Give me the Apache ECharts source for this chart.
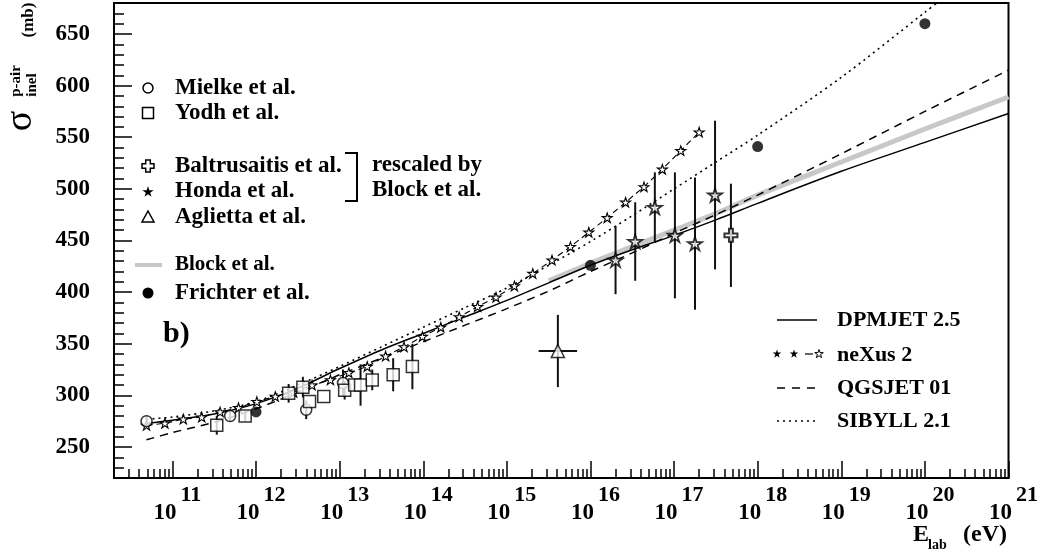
<!DOCTYPE html>
<html>
<head>
<meta charset="utf-8">
<script src="https://cdn.jsdelivr.net/npm/echarts@6/dist/echarts.min.js"></script>
<style>
  html, body { margin: 0; padding: 0; background: #fff; }
  #chart { width: 1041px; height: 554px; }
</style>
</head>
<body>
<div id="chart"></div>
<script>
// ---- axis ticks -------------------------------------------------------
const xMajorExp = [11, 12, 13, 14, 15, 16, 17, 18, 19, 20, 21];
const yMajor = [250, 300, 350, 400, 450, 500, 550, 600, 650];
const yMinor = [220, 230, 240, 250, 260, 270, 280, 290, 300, 310, 320, 330, 340, 350, 360, 370, 380, 390,
                400, 410, 420, 430, 440, 450, 460, 470, 480, 490, 500, 510, 520, 530, 540, 550, 560, 570,
                580, 590, 600, 610, 620, 630, 640, 650, 660, 670, 680];

// ---- model curves: energies as log10(E/eV), cross sections in mb -------
const modelLogE   = [10.69, 11, 11.5, 12, 12.5, 13, 13.5, 14, 14.5, 15, 15.5, 16, 16.5, 17, 17.5, 18, 19, 20, 21];
const dpmjetSigma = [273, 276, 282, 292, 307, 326, 344, 360, 376, 392, 409, 426, 441, 455, 470, 486, 517, 545, 573];
const qgsjetSigma = [257, 264, 274, 287, 303, 320, 336, 352, 368, 384, 401, 420, 438, 457, 475, 494, 534, 575, 615];
const sibyllLogE  = [10.69, 11, 11.5, 12, 12.5, 13, 13.5, 14, 14.5, 15, 15.5, 16, 16.5, 17, 17.5, 18, 19, 20, 20.3];
const sibyllSigma = [277, 279, 285, 294, 310, 328, 347, 366, 385, 404, 426, 449, 474, 500, 526, 552, 608, 671, 690];
const blockLogE   = [15.5, 16, 16.5, 17, 17.5, 18, 19, 20, 21];
const blockSigma  = [411, 428, 444, 460, 476, 494, 526, 558, 589];
const nexusLogE   = [10.69, 10.91, 11.13, 11.35, 11.57, 11.79, 12.01, 12.23, 12.45, 12.67, 12.89, 13.11, 13.33,
                     13.55, 13.77, 13.99, 14.21, 14.43, 14.65, 14.87, 15.09, 15.31, 15.54, 15.76, 15.98, 16.20,
                     16.42, 16.64, 16.86, 17.08, 17.30];
const nexusSigma  = [271, 273, 277, 279, 284, 288, 294, 299, 303, 310, 315, 322, 328, 338, 347, 357, 366, 376,
                     386, 395, 406, 418, 431, 444, 458, 472, 487, 502, 519, 537, 555];

// ---- measurements -----------------------------------------------------
const mielkeLogE = [10.69, 11.69, 12.60, 13.04];
const mielkeSigma = [275, 280, 286, 312];
const mielkeErr = [5, 5, 9, 13];

const yodhLogE = [11.53, 11.87, 12.39, 12.56, 12.64, 12.81, 13.06, 13.18, 13.25, 13.39, 13.64, 13.87];
const yodhSigma = [271, 280, 302, 308, 294, 299, 305, 310, 310, 315, 320, 328];
const yodhErr = [9, 5, 9, 10, 0, 0, 9, 0, 20, 10, 16, 22];

const baltrusaitisLogE = [17.68];
const baltrusaitisSigma = [455];
const baltrusaitisErr = [50];

const hondaLogE = [16.30, 16.535, 16.77, 17.01, 17.25, 17.49];
const hondaSigma = [431, 449, 482, 455, 447, 494];
const hondaErr = [33, 38, 34, 61, 64, 72];

const agliettaLogE = [15.61];
const agliettaSigma = [343];
const agliettaErr = [35];
const agliettaLogEErr = [0.23];

const frichterLogE = [12, 16, 18, 20];
const frichterSigma = [284, 426, 541, 660];

// ---- helpers ----------------------------------------------------------
const SERIF = '"Liberation Serif", "DejaVu Serif", serif';
const toE = lg => Math.pow(10, lg);
const pairs = (lgs, ys) => lgs.map((lg, i) => [toE(lg), ys[i]]);
const errRows = (lgs, ys, errs, xerrs) => lgs.map((lg, i) => {
  const e = errs[i] || 0;
  const xe = xerrs ? xerrs[i] : 0;
  return [toE(lg), ys[i], ys[i] - e, ys[i] + e, xe ? toE(lg - xe) : 0, xe ? toE(lg + xe) : 0];
});

const STAR = 'path://M0,-10L2.245,-3.09L9.51,-3.09L3.633,1.18L5.88,8.09L0,3.82L-5.88,8.09L-3.633,1.18L-9.51,-3.09L-2.245,-3.09Z';
const CROSS = 'path://M-3,-10L3,-10L3,-3L10,-3L10,3L3,3L3,10L-3,10L-3,3L-10,3L-10,-3L-3,-3Z';

const X_MIN = 2e10, X_MAX = 1e21;
// minor ticks of the log axis at 2..9 x 10^n
const xMinor = [];
for (let n = 10; n <= 20; n++) {
  for (let m = 2; m <= 9; m++) {
    const v = m * Math.pow(10, n);
    if (v >= X_MIN && v <= X_MAX) xMinor.push(v);
  }
}
// keep the last decade label just inside the axis extent
const xMajor = xMajorExp.map(n => Math.min(toE(n), X_MAX * 0.99999));

const errorBars = {
  type: 'custom',
  silent: true,
  z: 3,
  renderItem(params, api) {
    const x = api.value(0), y = api.value(1);
    const lo = api.value(2), hi = api.value(3);
    const xl = api.value(4), xh = api.value(5);
    const children = [];
    if (hi > lo) {
      const a = api.coord([x, lo]), b = api.coord([x, hi]);
      children.push({ type: 'line', shape: { x1: a[0], y1: a[1], x2: b[0], y2: b[1] },
                      style: { stroke: '#111', lineWidth: 2 } });
    }
    if (xl > 0 && xh > 0) {
      const a = api.coord([xl, y]), b = api.coord([xh, y]);
      children.push({ type: 'line', shape: { x1: a[0], y1: a[1], x2: b[0], y2: b[1] },
                      style: { stroke: '#111', lineWidth: 2 } });
    }
    return { type: 'group', children };
  }
};

const openStyle = { color: '#fff', borderColor: '#000', borderWidth: 1.5 };

// ---- legend / annotation graphics --------------------------------------
function starPts(cx, cy, r) {
  const pts = [];
  for (let i = 0; i < 10; i++) {
    const a = -Math.PI / 2 + i * Math.PI / 5;
    const rr = i % 2 ? r * 0.382 : r;
    pts.push([cx + rr * Math.cos(a), cy + rr * Math.sin(a)]);
  }
  return pts;
}
function crossPts(cx, cy, r, w) {
  return [[cx - w, cy - r], [cx + w, cy - r], [cx + w, cy - w], [cx + r, cy - w], [cx + r, cy + w],
          [cx + w, cy + w], [cx + w, cy + r], [cx - w, cy + r], [cx - w, cy + w], [cx - r, cy + w],
          [cx - r, cy - w], [cx - w, cy - w]];
}
const txt = (x, y, text, size, extra) => Object.assign({
  type: 'text', x, y,
  style: { text, font: 'bold ' + size + 'px ' + SERIF, fill: '#000', verticalAlign: 'middle', align: 'left' }
}, extra || {});
const vtxt = (x, y, text, font) => ({
  type: 'text', x, y, rotation: Math.PI / 2,
  style: { text, font, fill: '#000', align: 'center', verticalAlign: 'middle' }
});
const stroke = { stroke: '#000', lineWidth: 1.5, fill: '#fff' };

const graphics = [
  // left legend
  { type: 'circle', shape: { cx: 148, cy: 88, r: 5 }, style: stroke },
  txt(175, 88, 'Mielke et al.', 23),
  { type: 'rect', shape: { x: 142.5, y: 107.5, width: 11, height: 11 }, style: stroke },
  txt(175, 113, 'Yodh et al.', 23),
  { type: 'polygon', shape: { points: crossPts(148, 166, 6, 2.3) }, style: stroke },
  txt(175, 166, 'Baltrusaitis et al.', 23),
  { type: 'polygon', shape: { points: starPts(148, 192, 6) }, style: { fill: '#000' } },
  txt(175, 191, 'Honda et al.', 23),
  { type: 'polygon', shape: { points: [[148, 211], [154, 222], [142, 222]] }, style: stroke },
  txt(175, 217, 'Aglietta et al.', 23),
  { type: 'line', shape: { x1: 135, y1: 265, x2: 162, y2: 265 }, style: { stroke: '#c8c8c8', lineWidth: 4 } },
  txt(175, 265, 'Block et al.', 21),
  { type: 'circle', shape: { cx: 148, cy: 293, r: 5.5 }, style: { fill: '#000' } },
  txt(175, 293, 'Frichter et al.', 23),
  // bracket and note
  { type: 'polyline', shape: { points: [[345, 153], [357, 153], [357, 201], [345, 201]] },
    style: { stroke: '#000', lineWidth: 2, fill: null } },
  txt(372, 165, 'rescaled by', 23),
  txt(372, 190, 'Block et al.', 23),
  txt(163, 334, 'b)', 30),
  // right legend
  { type: 'line', shape: { x1: 777, y1: 320, x2: 817, y2: 320 }, style: { stroke: '#000', lineWidth: 1.5 } },
  txt(837, 320, 'DPMJET 2.5', 22),
  { type: 'line', shape: { x1: 805, y1: 354, x2: 813, y2: 354 }, style: { stroke: '#000', lineWidth: 1.2 } },
  { type: 'polygon', shape: { points: starPts(777, 354, 4.5) }, style: { fill: '#000' } },
  { type: 'polygon', shape: { points: starPts(794, 354, 4.5) }, style: { fill: '#000' } },
  { type: 'polygon', shape: { points: starPts(819, 354, 4.5) }, style: { fill: '#fff', stroke: '#000', lineWidth: 1 } },
  txt(837, 355, 'neXus 2', 22),
  { type: 'line', shape: { x1: 777, y1: 388, x2: 820, y2: 388 },
    style: { stroke: '#000', lineWidth: 1.5, lineDash: [8, 7] } },
  txt(837, 388, 'QGSJET 01', 22),
  { type: 'line', shape: { x1: 777, y1: 421, x2: 818, y2: 421 },
    style: { stroke: '#000', lineWidth: 1.5, lineDash: [2, 4] } },
  txt(837, 421, 'SIBYLL 2.1', 22),
  // y-axis title
  vtxt(21, 121, 'σ', '38px ' + SERIF),
  vtxt(16, 81, 'p-air', 'bold 15px ' + SERIF),
  vtxt(32, 85, 'inel', 'bold 15px ' + SERIF),
  vtxt(29, 20, '(mb)', 'bold 17px ' + SERIF),
  // x-axis title
  txt(913, 535, 'E', 24),
  txt(928, 545, 'lab', 14),
  txt(963, 535, '(eV)', 24)
];

const chart = echarts.init(document.getElementById('chart'), null, { renderer: 'canvas' });

chart.setOption({
  backgroundColor: '#fff',
  animation: false,
  grid: { left: 114, right: 32, top: 3, bottom: 76, show: true, borderColor: '#000', borderWidth: 2,
          backgroundColor: 'transparent' },
  xAxis: [
    {
      type: 'log', logBase: 10, min: X_MIN, max: X_MAX,
      axisLine: { show: true, lineStyle: { color: '#000', width: 2 } },
      axisTick: { show: true, inside: true, length: 17, customValues: xMajor, lineStyle: { color: '#000', width: 1.5 } },
      axisLabel: {
        customValues: xMajor, margin: 6, padding: [0, 0, 0, 10],
        formatter: v => '{b|10}{s|' + Math.round(Math.log10(v)) + '}',
        rich: {
          b: { fontFamily: SERIF, fontWeight: 'bold', fontSize: 23, color: '#000', lineHeight: 41, verticalAlign: 'bottom' },
          s: { fontFamily: SERIF, fontWeight: 'bold', fontSize: 22, color: '#000', verticalAlign: 'top', padding: [0, 0, 0, 4] }
        }
      },
      splitLine: { show: false }
    },
    {
      type: 'log', logBase: 10, min: X_MIN, max: X_MAX, position: 'bottom', offset: 0,
      axisLine: { show: false },
      axisTick: { show: true, inside: true, length: 9, customValues: xMinor, lineStyle: { color: '#000', width: 1.5 } },
      axisLabel: { show: false },
      splitLine: { show: false }
    }
  ],
  yAxis: [
    {
      type: 'value', min: 220, max: 680,
      axisLine: { show: true, lineStyle: { color: '#000', width: 2 } },
      axisTick: { show: true, inside: true, length: 18, customValues: yMajor, lineStyle: { color: '#000', width: 1.5 } },
      axisLabel: { customValues: yMajor, margin: 24, fontFamily: SERIF, fontWeight: 'bold', fontSize: 23, color: '#000' },
      splitLine: { show: false }
    },
    {
      type: 'value', min: 220, max: 680, position: 'left', offset: 0,
      axisLine: { show: false },
      axisTick: { show: true, inside: true, length: 10, customValues: yMinor, lineStyle: { color: '#000', width: 1.5 } },
      axisLabel: { show: false },
      splitLine: { show: false }
    }
  ],
  series: [
    { name: 'Block et al.', type: 'line', data: pairs(blockLogE, blockSigma), symbol: 'none', smooth: 0.3,
      lineStyle: { color: '#c8c8c8', width: 5 }, z: 1 },
    { name: 'DPMJET 2.5', type: 'line', data: pairs(modelLogE, dpmjetSigma), symbol: 'none', smooth: 0.3,
      lineStyle: { color: '#000', width: 1.5 }, z: 2 },
    { name: 'QGSJET 01', type: 'line', data: pairs(modelLogE, qgsjetSigma), symbol: 'none', smooth: 0.3,
      lineStyle: { color: '#000', width: 1.5, type: [8, 6] }, z: 2 },
    { name: 'SIBYLL 2.1', type: 'line', data: pairs(sibyllLogE, sibyllSigma), symbol: 'none', smooth: 0.3,
      lineStyle: { color: '#000', width: 1.6, type: [2, 4] }, z: 2 },
    { name: 'neXus 2', type: 'line', data: pairs(nexusLogE, nexusSigma), symbol: STAR, symbolSize: 10,
      symbolKeepAspect: true, lineStyle: { color: '#000', width: 1.1, type: [6, 4] },
      itemStyle: { color: '#fff', borderColor: '#000', borderWidth: 1.1 }, z: 2 },
    Object.assign({ name: 'Mielke et al.', data: errRows(mielkeLogE, mielkeSigma, mielkeErr) }, errorBars),
    Object.assign({ name: 'Yodh et al.', data: errRows(yodhLogE, yodhSigma, yodhErr) }, errorBars),
    Object.assign({ name: 'Baltrusaitis et al.', data: errRows(baltrusaitisLogE, baltrusaitisSigma, baltrusaitisErr) }, errorBars),
    Object.assign({ name: 'Honda et al.', data: errRows(hondaLogE, hondaSigma, hondaErr) }, errorBars),
    Object.assign({ name: 'Aglietta et al.', data: errRows(agliettaLogE, agliettaSigma, agliettaErr, agliettaLogEErr) }, errorBars),
    { name: 'Mielke et al.', type: 'scatter', data: pairs(mielkeLogE, mielkeSigma), symbol: 'circle',
      symbolSize: 11, itemStyle: openStyle, z: 4 },
    { name: 'Yodh et al.', type: 'scatter', data: pairs(yodhLogE, yodhSigma), symbol: 'rect',
      symbolSize: 12, itemStyle: openStyle, z: 4 },
    { name: 'Baltrusaitis et al.', type: 'scatter', data: pairs(baltrusaitisLogE, baltrusaitisSigma), symbol: CROSS,
      symbolSize: 13, symbolKeepAspect: true, itemStyle: { color: '#fff', borderColor: '#000', borderWidth: 2 }, z: 4 },
    { name: 'Honda et al.', type: 'scatter', data: pairs(hondaLogE, hondaSigma), symbol: STAR,
      symbolSize: 14, symbolKeepAspect: true, itemStyle: { color: '#fff', borderColor: '#000', borderWidth: 1.8 }, z: 4 },
    { name: 'Aglietta et al.', type: 'scatter', data: pairs(agliettaLogE, agliettaSigma), symbol: 'triangle',
      symbolSize: 13, itemStyle: openStyle, z: 4 },
    { name: 'Frichter et al.', type: 'scatter', data: pairs(frichterLogE, frichterSigma), symbol: 'circle',
      symbolSize: 11, itemStyle: { color: '#000' }, z: 4 }
  ],
  graphic: graphics
});
</script>
</body>
</html>
